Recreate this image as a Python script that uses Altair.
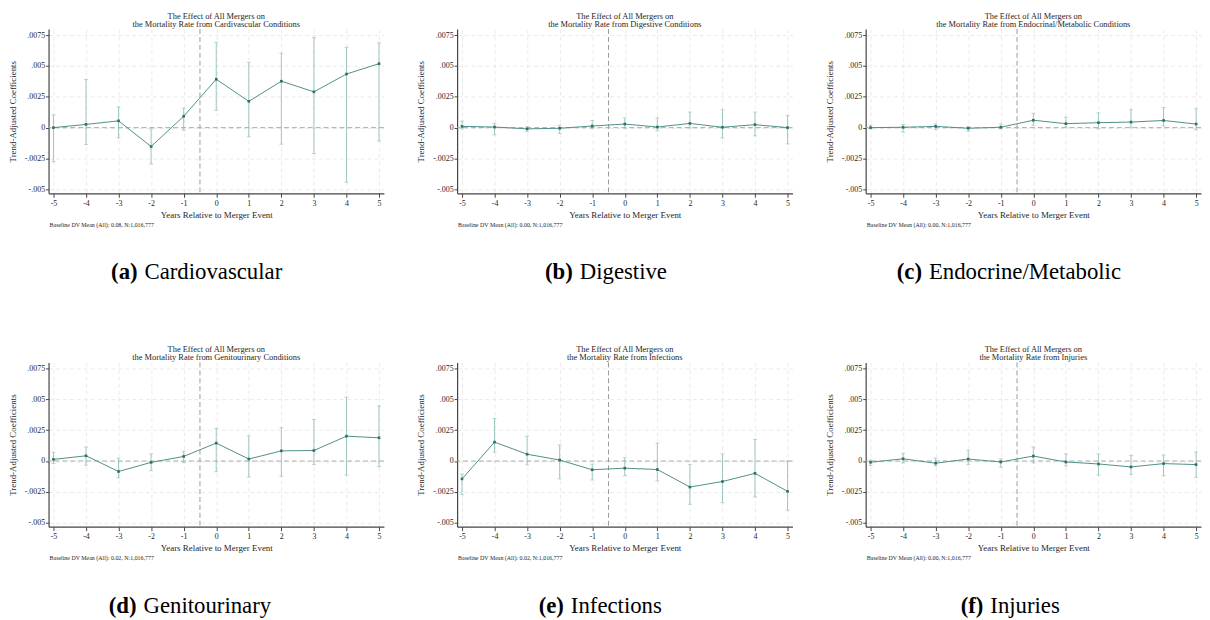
import altair as alt
import pandas as pd

F = "Liberation Serif"

years = list(range(-5, 6))
y_ticks = [-0.005, -0.0025, 0, 0.0025, 0.005, 0.0075]

letters = ["(a)", "(b)", "(c)", "(d)", "(e)", "(f)"]
captions = ["Cardiovascular", "Digestive", "Endocrine/Metabolic",
            "Genitourinary", "Infections", "Injuries"]
title_topics = ["Cardivascular Conditions", "Digestive Conditions",
                "Endocrinal/Metabolic Conditions", "Genitourinary Conditions",
                "Infections", "Injuries"]
baseline_means = ["0.08", "0.00", "0.00", "0.02", "0.02", "0.00"]
n_obs = "1,016,777"

coef_a = [0.0, 0.00026, 0.00055, -0.00153, 0.00092, 0.00392, 0.00213, 0.00376, 0.0029, 0.00434, 0.00518]
hi_a = [0.00103, 0.0039, 0.00168, -0.0001, 0.00158, 0.0069, 0.00529, 0.00603, 0.00729, 0.0065, 0.00687]
lo_a = [-0.00276, -0.00137, -0.00084, -0.00295, -0.00021, 0.0014, -0.00074, -0.00134, -0.0021, -0.00442, -0.00108]

coef_b = [0.0001, 0.00005, -0.0001, -0.00005, 0.00013, 0.00029, 0.00005, 0.00034, 0.00003, 0.00024, 0.0]
hi_b = [0.00053, 0.00034, 0.00008, 0.0002, 0.00058, 0.00079, 0.00079, 0.00126, 0.00145, 0.00126, 0.00097]
lo_b = [-0.0001, -0.00058, -0.00034, -0.00047, -0.00008, -0.00005, -0.00026, -0.00003, -0.00084, -0.00066, -0.00132]

coef_c = [0.0, 0.00003, 0.0001, -0.00005, 0.00003, 0.0006, 0.00032, 0.0004, 0.00045, 0.00058, 0.00029]
hi_c = [0.0002, 0.00026, 0.0003, 0.0001, 0.0003, 0.00116, 0.00084, 0.0012, 0.00145, 0.00163, 0.00153]
lo_c = [-0.0001, -0.00037, -0.00016, -0.0003, -0.0001, 0.00018, 0.00005, -0.0001, 0.00003, 0.00013, -0.00018]

coef_d = [0.00013, 0.00042, -0.00085, -0.00011, 0.00037, 0.00145, 0.00016, 0.00082, 0.00085, 0.00201, 0.00188]
hi_d = [0.00071, 0.00114, 0.00024, 0.00058, 0.00079, 0.00264, 0.00203, 0.0027, 0.00336, 0.00518, 0.00447]
lo_d = [-0.00021, -0.00034, -0.00137, -0.00079, -0.00013, -0.00087, -0.0013, -0.00124, -0.00029, -0.00114, -0.00045]

coef_e = [-0.00145, 0.00153, 0.00055, 0.00008, -0.00071, -0.00058, -0.00069, -0.00211, -0.00166, -0.001, -0.00246]
hi_e = [-0.00106, 0.00344, 0.002, 0.0013, -0.00026, 0.00026, 0.00145, -0.00029, 0.00058, 0.00174, 0.0]
lo_e = [-0.00272, 0.00071, -0.00032, -0.00145, -0.00153, -0.00119, -0.00161, -0.00351, -0.00338, -0.00291, -0.00399]

coef_f = [-0.0001, 0.00018, -0.00018, 0.00016, -0.00008, 0.0004, -0.00008, -0.00024, -0.00048, -0.00021, -0.00029]
hi_f = [0.00008, 0.00063, 0.00024, 0.00087, 0.00018, 0.00114, 0.00058, 0.00058, 0.00045, 0.00048, 0.00074]
lo_f = [-0.00037, -0.00016, -0.0004, -0.00029, -0.0005, -0.00016, -0.0004, -0.00114, -0.00108, -0.00119, -0.00132]

coefs = [coef_a, coef_b, coef_c, coef_d, coef_e, coef_f]
his = [hi_a, hi_b, hi_c, hi_d, hi_e, hi_f]
los = [lo_a, lo_b, lo_c, lo_d, lo_e, lo_f]

# layout (styles, not data)
W, H = 339, 166
caption_split = [93, 120, 60, 92, 111, 122]

LINE = "#4f8f87"
MARK = "#2f6f68"
CI = "#9cc6c0"
TXT = "#262626"

xscale = alt.Scale(domain=[-5.15, 5.15], nice=False, zero=False)
yscale = alt.Scale(domain=[-0.00532, 0.00798], nice=False, zero=False)
xaxis = alt.Axis(values=years, title="Years Relative to Merger Event",
                 labelExpr="toString(datum.value)", labelAngle=0, labelOverlap=False,
                 tickSize=4, labelPadding=2, titlePadding=3, grid=True)
yaxis = alt.Axis(values=y_ticks, title="Trend-Adjusted Coefficients",
                 labelExpr="datum.value == 0 ? '0' : replace(toString(datum.value), '0.', '.')",
                 labelOverlap=False, tickSize=3, labelPadding=1, titlePadding=7, grid=True)


def X(field):
    return alt.X(field, type="quantitative", scale=xscale, axis=xaxis)


def Y(field):
    return alt.Y(field, type="quantitative", scale=yscale, axis=yaxis)


def make_panel(i):
    df = pd.DataFrame({"year": years, "coef": coefs[i], "lo": los[i], "hi": his[i]})
    base = alt.Chart(df)
    one = alt.Chart(pd.DataFrame({"k": [0]}))

    # data layers first so their axis definitions lead
    bars = base.mark_rule(color=CI, strokeWidth=1).encode(x=X("year"), y=Y("lo"), y2="hi")
    cap_lo = base.mark_tick(color=CI, orient="horizontal", size=4, thickness=1).encode(
        x=X("year"), y=Y("lo"))
    cap_hi = base.mark_tick(color=CI, orient="horizontal", size=4, thickness=1).encode(
        x=X("year"), y=Y("hi"))
    vline = one.mark_rule(color="#9a9a9a", strokeDash=[5, 3], strokeWidth=1).encode(
        x=alt.datum(-0.5, type="quantitative", scale=xscale, axis=xaxis))
    hline = one.mark_rule(color="#aaaaaa", strokeDash=[5, 3], strokeWidth=1).encode(
        y=alt.datum(0, type="quantitative", scale=yscale, axis=yaxis))
    line = base.mark_line(color=LINE, strokeWidth=1).encode(x=X("year"), y=Y("coef"))
    pts = base.mark_square(color=MARK, size=7, opacity=1).encode(x=X("year"), y=Y("coef"))

    note_txt = f"Baseline DV Mean (All):  {baseline_means[i]},  N:{n_obs}"
    note = alt.Chart(pd.DataFrame({"t": [note_txt]})).mark_text(
        align="left", baseline="middle", font=F, fontSize=6, color=TXT).encode(
        x=alt.value(1), y=alt.value(198), text="t:N")
    cap1 = alt.Chart(pd.DataFrame({"t": [letters[i]]})).mark_text(
        align="right", baseline="middle", font=F, fontSize=23, fontWeight="bold", color="#000").encode(
        x=alt.value(caption_split[i] - 3), y=alt.value(246), text="t:N")
    cap2 = alt.Chart(pd.DataFrame({"t": [captions[i]]})).mark_text(
        align="left", baseline="middle", font=F, fontSize=23, color="#000").encode(
        x=alt.value(caption_split[i] + 4), y=alt.value(246), text="t:N")

    return alt.layer(bars, cap_lo, cap_hi, vline, hline, line, pts, note, cap1, cap2).properties(
        width=W, height=H,
        title=alt.TitleParams(
            text=["The Effect of All Mergers on", f"the Mortality Rate from {title_topics[i]}"],
            font=F, fontSize=8.5, fontWeight="normal", color=TXT, anchor="middle",
            offset=0, lineHeight=8.5))


panels = [make_panel(i) for i in range(6)]
row1 = alt.hconcat(*panels[:3], spacing=32)
row2 = alt.hconcat(*panels[3:], spacing=32)

chart = alt.vconcat(row1, row2, spacing=61).properties(padding=0).configure_view(
    stroke=None).configure_axis(
    labelFont=F, titleFont=F, labelFontSize=8, titleFontSize=9,
    labelColor=TXT, titleColor=TXT, titleFontWeight="normal", labelOverlap=False,
    gridColor="#e6e6e6", gridDash=[4, 3], gridWidth=0.8,
    domainColor="#444444", domainWidth=1.2, tickColor="#444444", tickWidth=1)

chart.save("out.html", embed_options={"renderer": "svg", "actions": False})
